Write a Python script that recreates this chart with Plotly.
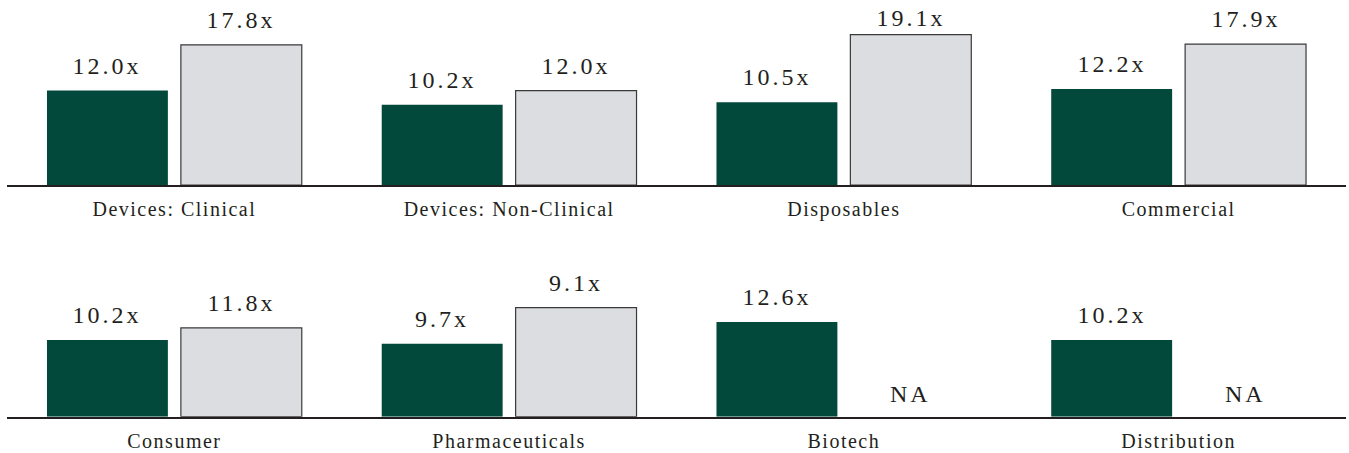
import plotly.graph_objects as go
from plotly.subplots import make_subplots

# ---- data ----
cats_top = ["Devices: Clinical", "Devices: Non-Clinical", "Disposables", "Commercial"]
green_top = [12.0, 10.2, 10.5, 12.2]
gray_top = [17.8, 12.0, 19.1, 17.9]
green_top_labels = ["12.0x", "10.2x", "10.5x", "12.2x"]
gray_top_labels = ["17.8x", "12.0x", "19.1x", "17.9x"]

cats_bot = ["Consumer", "Pharmaceuticals", "Biotech", "Distribution"]
green_bot = [10.2, 9.7, 12.6, 10.2]
gray_bot = [11.8, 14.5, None, None]
green_bot_labels = ["10.2x", "9.7x", "12.6x", "10.2x"]
gray_bot_labels = ["11.8x", "9.1x", "NA", "NA"]

GREEN = "#02493b"
GRAY = "#dcdde0"
TXT = "#231f20"
FONT = "Liberation Serif"

H = 453
TOP_BASE, TOP_RANGE = 185.0, 23.5
BOT_BASE, BOT_TOP = 416.7, 260.3

fig = make_subplots(rows=2, cols=1)

rows = [
    (1, cats_top, green_top, gray_top, green_top_labels, gray_top_labels),
    (2, cats_bot, green_bot, gray_bot, green_bot_labels, gray_bot_labels),
]


def label_shift(row, v):
    # keep labels from running off the top edge (as the reference does)
    if v is None:
        return 8
    if row == 1:
        bar_top_px = TOP_BASE - v * TOP_BASE / TOP_RANGE
        return min(10, bar_top_px - 33)
    return 10


OFF = 67
annotations = []
for r, cats, g, gr, gl, grl in rows:
    fig.add_trace(go.Bar(x=cats, y=g, marker=dict(color=GREEN, line=dict(width=0)),
                         showlegend=False, hoverinfo="skip"), row=r, col=1)
    fig.add_trace(go.Bar(x=cats, y=gr, marker=dict(color=GRAY, line=dict(color="#3a3a3a", width=1.2)),
                         showlegend=False, hoverinfo="skip"), row=r, col=1)
    xref = "x" if r == 1 else "x2"
    yref = "y" if r == 1 else "y2"
    for c, v, t in zip(cats, g, gl):
        annotations.append(dict(x=c, y=v, xref=xref, yref=yref, text=t, showarrow=False,
                                xshift=-OFF, yanchor="bottom", yshift=label_shift(r, v),
                                font=dict(family=FONT, size=24, color=TXT)))
    for c, v, t in zip(cats, gr, grl):
        annotations.append(dict(x=c, y=(v if v is not None else 0), xref=xref, yref=yref, text=t,
                                showarrow=False, xshift=OFF, yanchor="bottom",
                                yshift=label_shift(r, v),
                                font=dict(family=FONT, size=24, color=TXT)))

fig.update_layout(
    width=1349, height=453,
    margin=dict(l=7, r=3, t=0, b=0, autoexpand=False),
    paper_bgcolor="white", plot_bgcolor="white",
    barmode="group", bargap=0.2, bargroupgap=0.097,
    annotations=annotations,
    font=dict(family=FONT, color=TXT),
)

fig.update_yaxes(range=[0, TOP_RANGE], domain=[(H - TOP_BASE) / H, 1.0], visible=False,
                 automargin=False, row=1, col=1)
fig.update_yaxes(range=[0, 20.8], domain=[(H - BOT_BASE) / H, (H - BOT_TOP) / H], visible=False,
                 automargin=False, row=2, col=1)
fig.update_xaxes(showline=True, linecolor=TXT, linewidth=2, showgrid=False, zeroline=False,
                 ticks="", ticklabelstandoff=5, automargin=False,
                 tickfont=dict(family=FONT, size=20, color=TXT), fixedrange=True)

post = ("var s=document.createElement('style');"
        "s.innerHTML='html,body{margin:0;padding:0;overflow:hidden}"
        ".annotation-text{letter-spacing:3px}.xtick text,.x2tick text{letter-spacing:1.5px}';"
        "document.head.appendChild(s);")
fig.write_html("out.html", post_script=post, config={"displayModeBar": False})
